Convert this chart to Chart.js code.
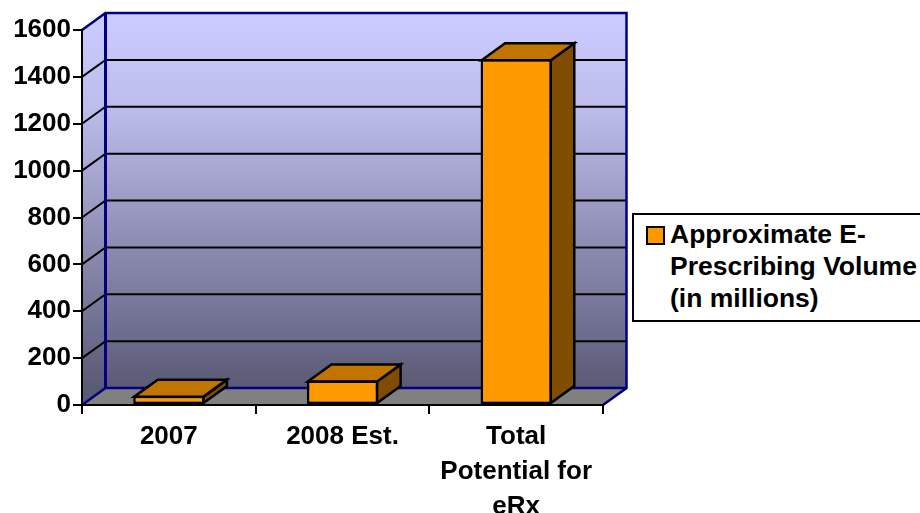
<!DOCTYPE html>
<html>
<head>
<meta charset="utf-8">
<title>E-Prescribing Volume</title>
<script src="https://cdn.jsdelivr.net/npm/chart.js@4"></script>
<style>
  html, body { margin: 0; padding: 0; background: #fff; overflow: hidden; }
  #wrap { position: relative; width: 920px; height: 513px; overflow: hidden; }
  #legend {
    position: absolute; left: 632px; top: 213px; width: 300px; height: 105px;
    border: 2px solid #000; background: #fff; box-sizing: content-box;
    font: bold 26.5px/32px "Liberation Sans", Arial, sans-serif; color: #000;
  }
  #legend .sw {
    position: absolute; left: 12px; top: 11px; width: 15px; height: 15px;
    background: #FF9900; border: 2px solid #000;
  }
  #legend .tx { position: absolute; left: 36px; top: 3px; white-space: nowrap; }
</style>
</head>
<body>
<div id="wrap">
  <canvas id="c" width="920" height="513"></canvas>
  <div id="legend"><div class="sw"></div><div class="tx">Approximate E-<br>Prescribing Volume<br>(in millions)</div></div>
</div>
<script>
const categories = ['2007', '2008 Est.', ['Total', 'Potential for', 'eRx']];
const volume = [40, 105, 1475];
const yMax = 1600;
const yStep = 200;

const DX = 23.5, DY = -17;
const FONT = { family: '"Liberation Sans", Arial, sans-serif', weight: 'bold', size: 26 };

function poly(ctx, pts, fill, stroke, lw) {
  ctx.beginPath();
  pts.forEach((p, i) => i ? ctx.lineTo(p[0], p[1]) : ctx.moveTo(p[0], p[1]));
  ctx.closePath();
  if (fill) { ctx.fillStyle = fill; ctx.fill(); }
  if (stroke) { ctx.strokeStyle = stroke; ctx.lineWidth = lw; ctx.lineJoin = 'miter'; ctx.stroke(); }
}
function line(ctx, pts, col, lw) {
  ctx.beginPath();
  pts.forEach((p, i) => i ? ctx.lineTo(p[0], p[1]) : ctx.moveTo(p[0], p[1]));
  ctx.strokeStyle = col; ctx.lineWidth = lw; ctx.stroke();
}

// walls, floor and the gridlines that run round them
const box3d = {
  id: 'box3d',
  beforeDraw(chart) {
    const { ctx, chartArea: a, scales: { y } } = chart;
    const l = a.left, r = a.right, t = a.top, b = a.bottom;
    ctx.save();
    const g = ctx.createLinearGradient(0, t + DY, 0, b + DY);
    g.addColorStop(0, '#CCCCFF');
    g.addColorStop(0.25, '#BDBDEC');
    g.addColorStop(1, '#5A5A76');
    poly(ctx, [[l + DX, t + DY], [r + DX, t + DY], [r + DX, b + DY], [l + DX, b + DY]], g);
    poly(ctx, [[l, t], [l + DX, t + DY], [l + DX, b + DY], [l, b]], g);
    poly(ctx, [[l, b], [l + DX, b + DY], [r + DX, b + DY], [r, b]], '#808080');
    y.ticks.forEach((tk, i) => {
      if (tk.value === 0 || tk.value === yMax) return;
      const py = y.getPixelForTick(i);
      line(ctx, [[l, py], [l + DX, py + DY], [r + DX, py + DY]], '#000', 2);
    });
    line(ctx, [[l, t], [l + DX, t + DY], [r + DX, t + DY], [r + DX, b + DY], [r, b]], '#000080', 2.5);
    line(ctx, [[l, b], [l + DX, b + DY], [r + DX, b + DY]], '#000080', 2.5);
    line(ctx, [[l + DX, t + DY], [l + DX, b + DY]], '#000080', 3);
    ctx.restore();
  },
  // top and side faces of the bars, the front comes from the bar element
  beforeDatasetsDraw(chart) {
    const { ctx } = chart;
    ctx.save();
    chart.getDatasetMeta(0).data.forEach(bar => {
      const x0 = bar.x - bar.width / 2 + 1, x1 = bar.x + bar.width / 2 - 1;
      const top = bar.y + 1, base = bar.base - 1;
      poly(ctx, [[x1, top], [x1 + DX, top + DY], [x1 + DX, base + DY], [x1, base]], '#804D00', '#000', 2.5);
      poly(ctx, [[x0, top], [x0 + DX, top + DY], [x1 + DX, top + DY], [x1, top]], '#C27400', '#000', 2.5);
    });
    ctx.restore();
  }
};

new Chart(document.getElementById('c'), {
  type: 'bar',
  data: {
    labels: categories,
    datasets: [{
      label: 'Approximate E-Prescribing Volume (in millions)',
      data: volume,
      backgroundColor: '#FF9900',
      borderColor: '#000',
      borderWidth: 2.5,
      borderSkipped: false,
      barPercentage: 0.41,
      categoryPercentage: 1
    }]
  },
  options: {
    responsive: false,
    animation: false,
    layout: { padding: { top: 30, right: 317, left: 0, bottom: 0 } },
    plugins: { legend: { display: false }, tooltip: { enabled: false } },
    scales: {
      x: {
        afterFit: s => { s.height = 108; },
        grid: { drawOnChartArea: false, offset: true, color: '#000', lineWidth: 2, tickLength: 9 },
        border: { color: '#000', width: 2 },
        ticks: { color: '#000', font: { ...FONT, lineHeight: 1.35 }, padding: 5, maxRotation: 0, autoSkip: false }
      },
      y: {
        min: 0, max: yMax,
        afterFit: s => { s.width = 82; },
        grid: { drawOnChartArea: false, color: '#000', lineWidth: 2, tickLength: 9 },
        border: { color: '#000', width: 2 },
        ticks: { color: '#000', font: FONT, stepSize: yStep, padding: 2, callback: v => String(v) }
      }
    }
  },
  plugins: [box3d]
});
</script>
</body>
</html>
